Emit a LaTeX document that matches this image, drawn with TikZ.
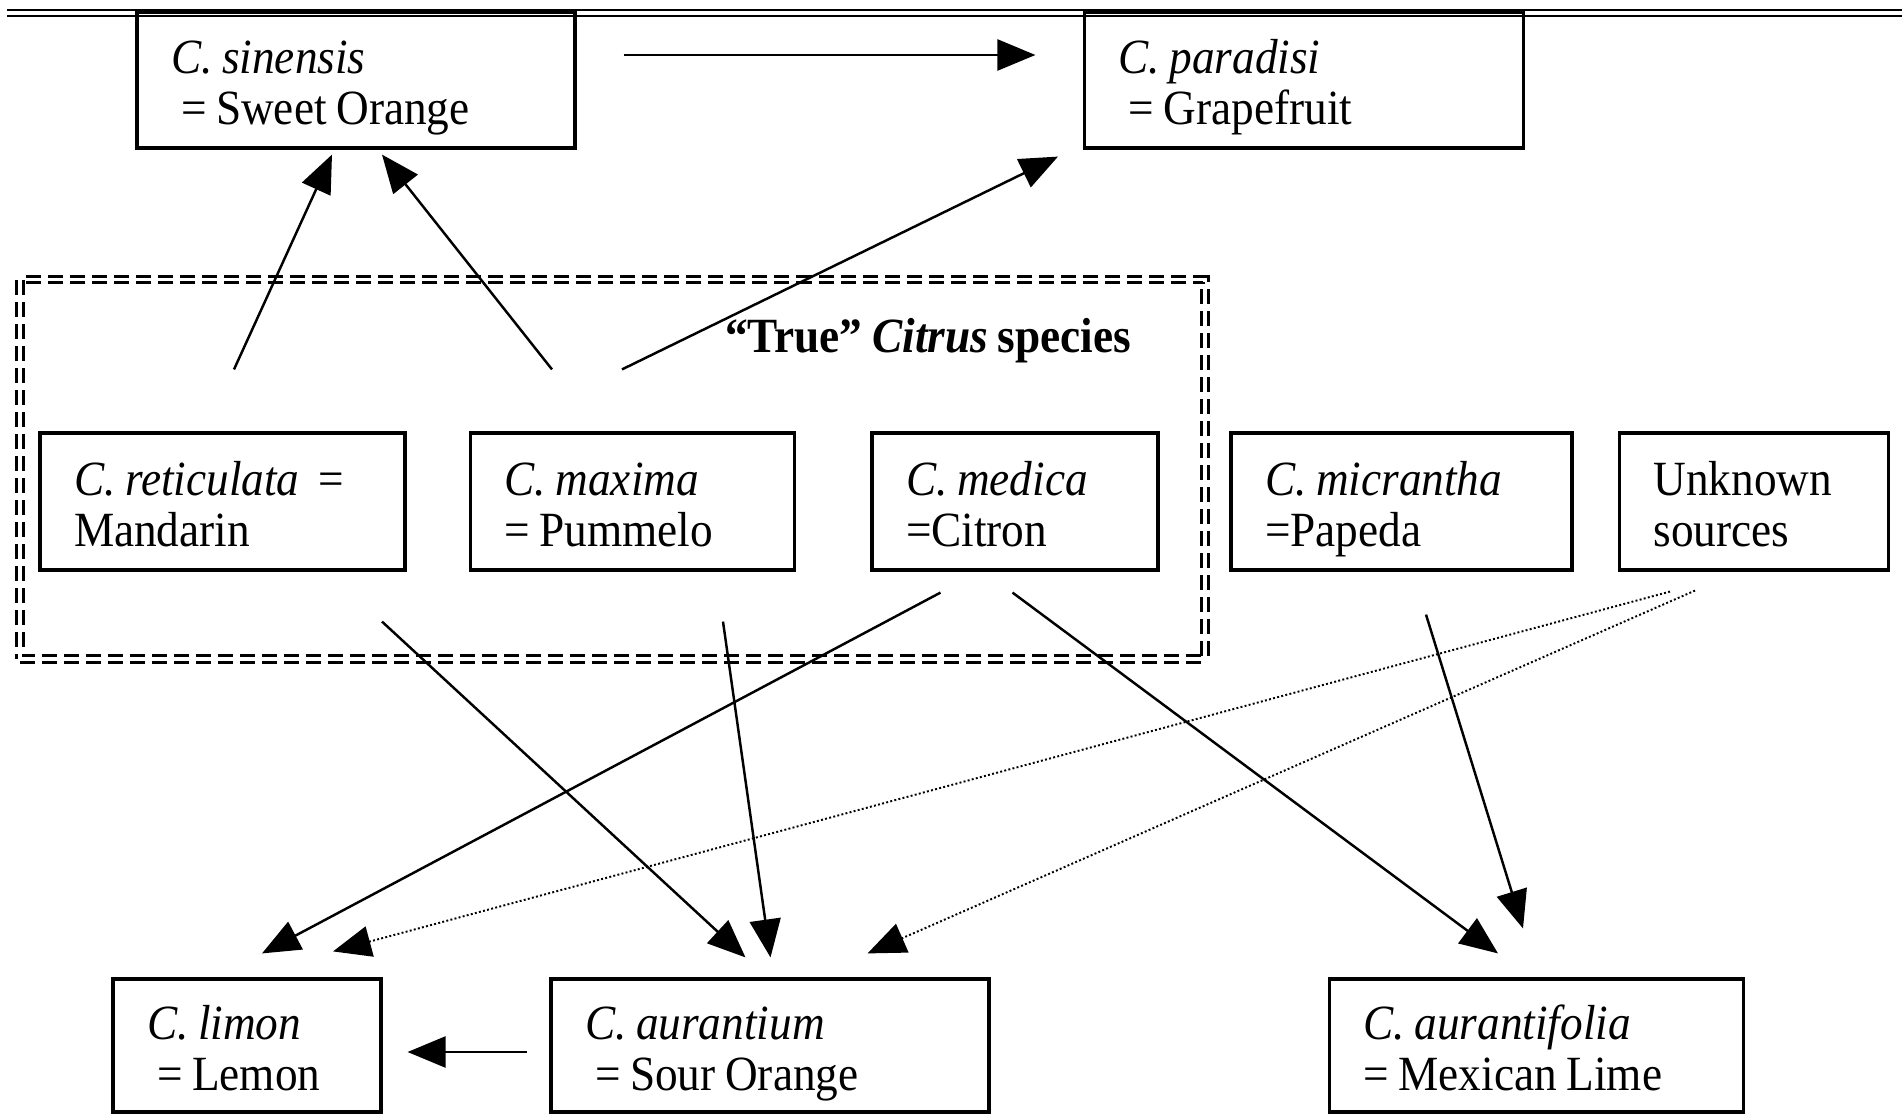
\documentclass[tikz,border=0pt]{standalone}
\usepackage{fontspec}
\setmainfont{Liberation Serif}[FakeStretch=0.92, WordSpace=0.85]
\usepackage{tikz}
\usetikzlibrary{shapes, arrows.meta, calc, fit}
\frenchspacing
\newcommand{\topstrut}{\rule{0pt}{29pt}}
\newcommand{\botstrut}{\rule[-7pt]{0pt}{7pt}}
\tikzstyle{species} = [rectangle, draw, line width=1.8pt, align=flush left,
    inner xsep=0.68cm, inner ysep=0pt, minimum height=2.74cm,
    font=\fontsize{28}{29}\selectfont,
    execute at begin node=\topstrut, execute at end node=\botstrut]
\tikzstyle{line} = [draw, line width=1.4pt, -{Triangle[length=0.76cm, width=0.62cm]}]
\tikzstyle{dotline} = [line, line width=1.1pt, dash pattern=on 1.1pt off 1.3pt]
\tikzstyle{truegroup} = [rectangle, draw, line width=1.8pt, double, double distance=0.07cm,
    dash pattern=on 0.3cm off 0.14cm, inner sep=0pt]
\tikzstyle{toprule} = [draw, line width=1.4pt, double, double distance=0.07cm]

\begin{document}
\begin{tikzpicture}[node distance = 2cm, auto]
    \useasboundingbox (0,0) rectangle (38.04,-22.32);
    \path [toprule] (0.14,-0.26) -- (38.04,-0.26);

    % Nodes
    \node [species, text width=7.40cm, minimum height=2.72cm] (sinensis) at (7.12,-1.60)
        {\textit{C. sinensis}\\\hspace*{0.2cm}= Sweet Orange};
    \node [species, text width=7.42cm, minimum height=2.72cm, right of=sinensis, node distance=18.96cm] (paradisi)
        {\textit{C. paradisi}\\\hspace*{0.2cm}= Grapefruit};

    \node [species, text width=5.94cm] (reticulata) at (4.45,-10.03)
        {\textit{C. reticulata}\ \ =\\Mandarin};
    \node [species, text width=5.12cm, right of=reticulata, node distance=8.20cm] (maxima)
        {\textit{C. maxima}\\= Pummelo};
    \node [species, text width=4.36cm, right of=maxima, node distance=7.65cm] (medica)
        {\textit{C. medica}\\=Citron};
    \node [species, text width=5.46cm, right of=medica, node distance=7.73cm] (micrantha)
        {\textit{C. micrantha}\\=Papeda};
    \node [species, text width=4.02cm, right of=micrantha, node distance=7.05cm] (unknown)
        {Unknown\\sources};

    \node [species, text width=4.00cm, minimum height=2.66cm] (limon) at (4.94,-20.91)
        {\textit{C. limon}\\\hspace*{0.2cm}= Lemon};
    \node [species, text width=7.40cm, minimum height=2.66cm, right of=limon, node distance=10.46cm] (aurantium)
        {\textit{C. aurantium}\\\hspace*{0.2cm}= Sour Orange};
    \node [species, text width=6.92cm, minimum height=2.66cm, right of=aurantium, node distance=15.33cm] (aurantifolia)
        {\textit{C. aurantifolia}\\= Mexican Lime};

    % True Citrus group
    \coordinate (framenw) at (0.40,-5.59);
    \coordinate (framese) at (24.10,-13.18);
    \node [truegroup, fit=(framenw)(framese)] (truecitrus) {};
    \node [font=\bfseries\fontsize{28}{29}\selectfont] (truelabel) at (18.56,-6.82)
        {“True” \textit{Citrus} species};

    % Edges
    \path [line] ($(sinensis.east)+(0.94,0.50)$) -- ($(paradisi.west)+(-0.95,0.50)$);
    \path [line] ($(reticulata.north)+(0.23,1.24)$) -- ($(sinensis.south)+(-0.48,-0.10)$);
    \path [line] ($(maxima.north)+(-1.61,1.24)$) -- ($(sinensis.south)+(0.52,-0.10)$);
    \path [line] ($(maxima.north)+(-0.21,1.24)$) -- ($(paradisi.south)+(-4.92,-0.14)$);
    \path [line] ($(reticulata.south)+(3.19,-1.00)$) -- ($(aurantium.north)+(-0.49,0.40)$);
    \path [line] ($(maxima.south)+(1.81,-1.00)$) -- ($(aurantium.north)+(0.01,0.40)$);
    \path [line] ($(medica.south)+(-1.49,-0.42)$) -- ($(limon.north)+(0.30,0.48)$);
    \path [line] ($(medica.south)+(-0.05,-0.42)$) -- ($(aurantifolia.north)+(-0.77,0.48)$);
    \path [line] ($(micrantha.south)+(0.49,-0.86)$) -- ($(aurantifolia.north)+(-0.27,0.98)$);
    \path [dotline] ($(unknown.south)+(-1.68,-0.40)$) -- ($(limon.north)+(1.72,0.52)$);
    \path [dotline] ($(unknown.south)+(-1.18,-0.38)$) -- ($(aurantium.north)+(1.95,0.48)$);
    \path [line] ($(aurantium.west)+(-0.45,-0.13)$) -- ($(limon.east)+(0.50,-0.13)$);

\end{tikzpicture}
\end{document}
